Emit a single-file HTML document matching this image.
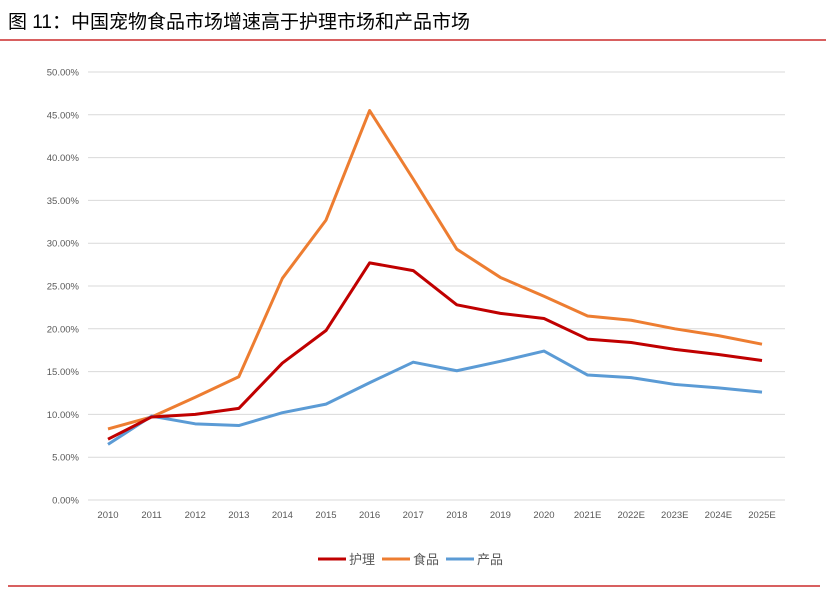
<!DOCTYPE html>
<html><head><meta charset="utf-8"><style>
body{margin:0;background:#fff;width:826px;height:591px;overflow:hidden;font-family:"Liberation Sans","Noto Sans CJK SC",sans-serif}
</style></head><body>
<svg id="s" width="826" height="591" xmlns="http://www.w3.org/2000/svg" font-family="Liberation Sans, Noto Sans CJK SC, sans-serif">
<text x="8" y="28" font-size="19" fill="#000">图 11：中国宠物食品市场增速高于护理市场和产品市场</text>
<line x1="0" y1="40" x2="826" y2="40" stroke="#C00000" stroke-width="1.2"/>
<line x1="8" y1="586" x2="820" y2="586" stroke="#C00000" stroke-width="1.2"/>
<g id="g"></g>
<g font-size="13" fill="#595959">
<line x1="318" y1="559" x2="346" y2="559" stroke="#C00000" stroke-width="3"/><text x="349" y="564">护理</text>
<line x1="382" y1="559" x2="410" y2="559" stroke="#ED7D31" stroke-width="3"/><text x="413" y="564">食品</text>
<line x1="446" y1="559" x2="474" y2="559" stroke="#5B9BD5" stroke-width="3"/><text x="477" y="564">产品</text>
</g>
</svg>
<script>
var g=document.getElementById('g'),h='';
function Y(v){return 500-v*8.56}
function X(i){return 108+i*43.6}
for(var i=0;i<=10;i++){var y=Y(i*5);
h+='<line x1="88" y1="'+y+'" x2="785" y2="'+y+'" stroke="#D9D9D9" stroke-width="1"/>';
h+='<text x="79" y="'+(y+3.5)+'" font-size="9.5" fill="#595959" text-anchor="end">'+(i*5).toFixed(2)+'%</text>';}
var L=['2010','2011','2012','2013','2014','2015','2016','2017','2018','2019','2020','2021E','2022E','2023E','2024E','2025E'];
L.forEach(function(l,i){h+='<text x="'+X(i)+'" y="518" font-size="9.5" fill="#595959" text-anchor="middle">'+l+'</text>'});
var D=[['#ED7D31',[8.3,9.7,12.0,14.4,25.9,32.7,45.5,37.5,29.3,26.0,23.8,21.5,21.0,20.0,19.2,18.2]],
['#5B9BD5',[6.5,9.8,8.9,8.7,10.2,11.2,13.7,16.1,15.1,16.2,17.4,14.6,14.3,13.5,13.1,12.6]],
['#C00000',[7.1,9.7,10.0,10.7,16.0,19.8,27.7,26.8,22.8,21.8,21.2,18.8,18.4,17.6,17.0,16.3]]];
D.forEach(function(d){h+='<polyline fill="none" stroke="'+d[0]+'" stroke-width="3" stroke-linejoin="round" points="'+d[1].map(function(v,i){return X(i)+','+Y(v)}).join(' ')+'"/>'});
g.innerHTML=h;
</script>
</body></html>
